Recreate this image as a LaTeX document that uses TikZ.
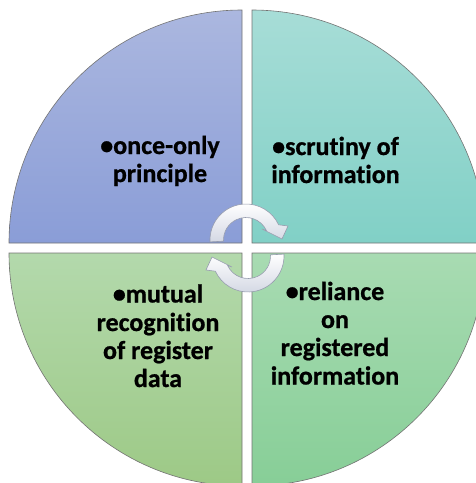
\documentclass[tikz,border=0pt]{standalone}
\usepackage{fontspec}
\setmainfont{Carlito}[Ligatures=NoCommon,BoldFeatures={FakeBold=0.8}]
\begin{document}
\begin{tikzpicture}[x=1pt,y=-1pt,
  quad/.style={draw=black!55,line width=0.6pt},
  lbl/.style={anchor=base,inner sep=0pt,font=\fontsize{26}{28}\selectfont\bfseries},
  cyc/.style={draw={rgb,255:red,150;green,156;blue,174},line width=0.6pt,top color=white,bottom color={rgb,255:red,212;green,216;blue,228}}]
\definecolor{tlA}{HTML}{ABB7DF}\definecolor{tlB}{HTML}{8A9DD7}
\definecolor{trA}{HTML}{A7DDD7}\definecolor{trB}{HTML}{81D0C6}
\definecolor{blA}{HTML}{B3D9AC}\definecolor{blB}{HTML}{9DC986}
\definecolor{brA}{HTML}{A8DBB2}\definecolor{brB}{HTML}{87CE97}
\path[use as bounding box] (0,0) rectangle (476,483);
\clip (0,0) rectangle (476,483);
% quadrants
\path[quad,top color=tlA,bottom color=tlB] (242,243) -- (9,243) arc[start angle=180,end angle=270,radius=233] -- cycle;
\path[quad,top color=trA,bottom color=trB] (252,243) -- (252,10) arc[start angle=270,end angle=360,radius=233] -- cycle;
\path[quad,top color=blA,bottom color=blB] (242,253) -- (242,486) arc[start angle=90,end angle=180,radius=233] -- cycle;
\path[quad,top color=brA,bottom color=brB] (252,253) -- (485,253) arc[start angle=0,end angle=90,radius=233] -- cycle;
% texts
\node[lbl] (t1a) at (160,154) {•once-only};
\node[lbl] (t1b) at (160,182) {principle};
\node[lbl] (t2a) at (335.5,155) {•scrutiny of};
\node[lbl] (t2b) at (335.5,183) {information};
\node[lbl] (t3a) at (158,302.5) {•mutual};
\node[lbl] (t3b) at (158,331) {recognition};
\node[lbl] (t3c) at (158,359) {of register};
\node[lbl] (t3d) at (158,387) {data};
\node[lbl] (t4a) at (335,300) {•reliance};
\node[lbl] (t4b) at (335,328) {on};
\node[lbl] (t4c) at (335,356) {registered};
\node[lbl] (t4d) at (335,384.5) {information};
% circular arrows
\coordinate (c1) at (246,240);
\coordinate (c2) at (248,256);
\path[cyc] ([shift={(177:36)}]c1) arc[start angle=177,end angle=335,radius=36]
  -- ([shift={(42,-14)}]c1) -- ([shift={(36,-1)}]c1) -- ([shift={(16,-11)}]c1)
  -- ([shift={(335:22.5)}]c1) arc[start angle=335,end angle=177,radius=22.5] -- cycle;
\path[cyc] ([shift={(357:36)}]c2) arc[start angle=357,end angle=515,radius=36]
  -- ([shift={(-42,14)}]c2) -- ([shift={(-36,1)}]c2) -- ([shift={(-16,11)}]c2)
  -- ([shift={(155:22.5)}]c2) arc[start angle=515,end angle=357,radius=22.5] -- cycle;
\end{tikzpicture}
\end{document}
